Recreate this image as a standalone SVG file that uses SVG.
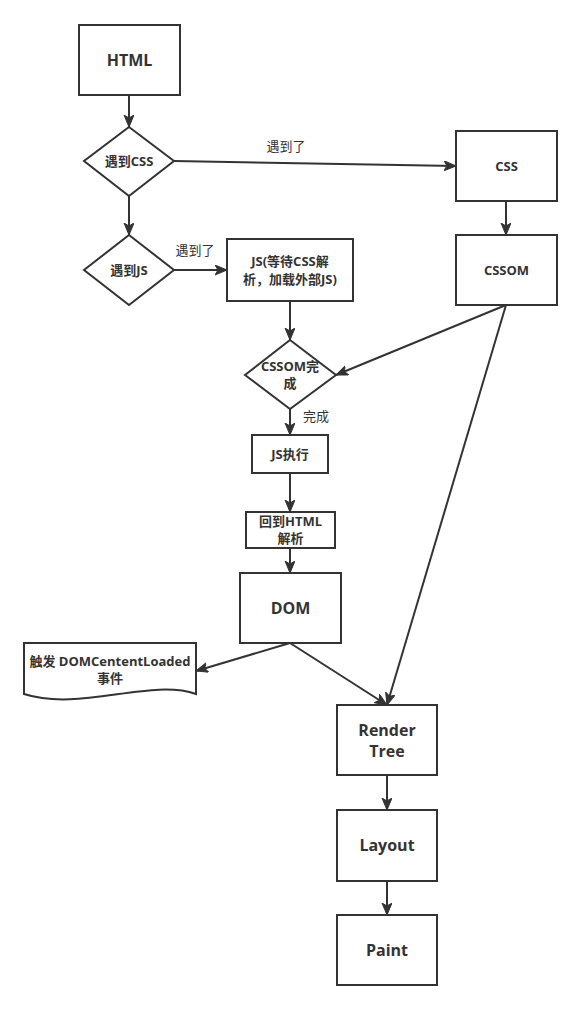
<svg xmlns="http://www.w3.org/2000/svg" width="580" height="1010" viewBox="0 0 580 1010">
<defs>
<marker id="arr" markerUnits="userSpaceOnUse" markerWidth="14" markerHeight="12" refX="12" refY="5" orient="auto">
<path d="M0,0 L12,5 L0,10 L3,5 Z" fill="#333" stroke="#333" stroke-width="1"/>
</marker>
<style>
.box{fill:#fff;stroke:#333;stroke-width:2}
.t{font-family:"Open Sans","Noto Sans CJK SC",sans-serif;font-weight:bold;fill:#333;text-anchor:middle}
.s{font-size:13px}
.b{font-size:16px}
.l{font-family:"Open Sans","Noto Sans CJK SC",sans-serif;font-size:13px;fill:#333;text-anchor:middle}
.c{fill:none;stroke:#333;stroke-width:2;marker-end:url(#arr)}
</style>
</defs>
<rect width="580" height="1010" fill="#fff"/>
<g id="connectors">
<path class="c" d="M129,95 L129,127"/>
<path class="c" d="M129,196 L129,235"/>
<path class="c" d="M174,161 L456,166"/>
<path class="c" d="M174,270 L227,270"/>
<path class="c" d="M506,201 L506,235"/>
<path class="c" d="M290,301 L290,340"/>
<path class="c" d="M506,305 L336,375"/>
<path class="c" d="M290,409 L290,435"/>
<path class="c" d="M290,473 L290,512"/>
<path class="c" d="M290,548 L290,573"/>
<path class="c" d="M290,643 L196,671"/>
<path class="c" d="M290,643 L387,705"/>
<path class="c" d="M506,305 L387,705"/>
<path class="c" d="M387,775 L387,810"/>
<path class="c" d="M387,881 L387,915"/>
<text class="l" x="286" y="151">遇到了</text>
<text class="l" x="195" y="255">遇到了</text>
<text class="l" x="316" y="421">完成</text>
</g>
<g id="html"><rect class="box" x="79" y="25" width="101" height="70"/><text class="t b" x="129.5" y="66">HTML</text></g>
<g id="d-css"><path class="box" d="M129,127 L174,161 L129,196 L84,161 Z"/><text class="t s" x="129" y="166">遇到CSS</text></g>
<g id="d-js"><path class="box" d="M129,235 L174,270 L129,305 L84,270 Z"/><text class="t s" x="129" y="275">遇到JS</text></g>
<g id="css"><rect class="box" x="456" y="131" width="101" height="70"/><text class="t s" x="506.5" y="171">CSS</text></g>
<g id="cssom"><rect class="box" x="456" y="235" width="101" height="70"/><text class="t s" x="506.5" y="275">CSSOM</text></g>
<g id="js"><rect class="box" x="227" y="239" width="126" height="62"/><text class="t s" x="290" y="266">JS(等待CSS解</text><text class="t s" x="290" y="284">析，加载外部JS)</text></g>
<g id="d-cssom"><path class="box" d="M290,340 L336,375 L290,409 L245,375 Z"/><text class="t s" x="290" y="371">CSSOM完</text><text class="t s" x="290" y="388">成</text></g>
<g id="jsexec"><rect class="box" x="252" y="435" width="76" height="38"/><text class="t s" x="290" y="459">JS执行</text></g>
<g id="back"><rect class="box" x="246" y="512" width="89" height="36"/><text class="t s" x="290.5" y="526">回到HTML</text><text class="t s" x="290.5" y="543">解析</text></g>
<g id="dom"><rect class="box" x="240" y="573" width="101" height="70"/><text class="t b" x="290.5" y="614">DOM</text></g>
<g id="doc"><path class="box" d="M24,643 L196,643 L196,694 C150,678 80,712 24,694 Z"/><text class="t s" x="110" y="666">触发 DOMCententLoaded</text><text class="t s" x="110" y="683">事件</text></g>
<g id="render"><rect class="box" x="337" y="705" width="100" height="70"/><text class="t b" x="387" y="736">Render</text><text class="t b" x="387" y="757">Tree</text></g>
<g id="layout"><rect class="box" x="337" y="810" width="100" height="71"/><text class="t b" x="387" y="851">Layout</text></g>
<g id="paint"><rect class="box" x="337" y="915" width="100" height="70"/><text class="t b" x="387" y="956">Paint</text></g>
</svg>
